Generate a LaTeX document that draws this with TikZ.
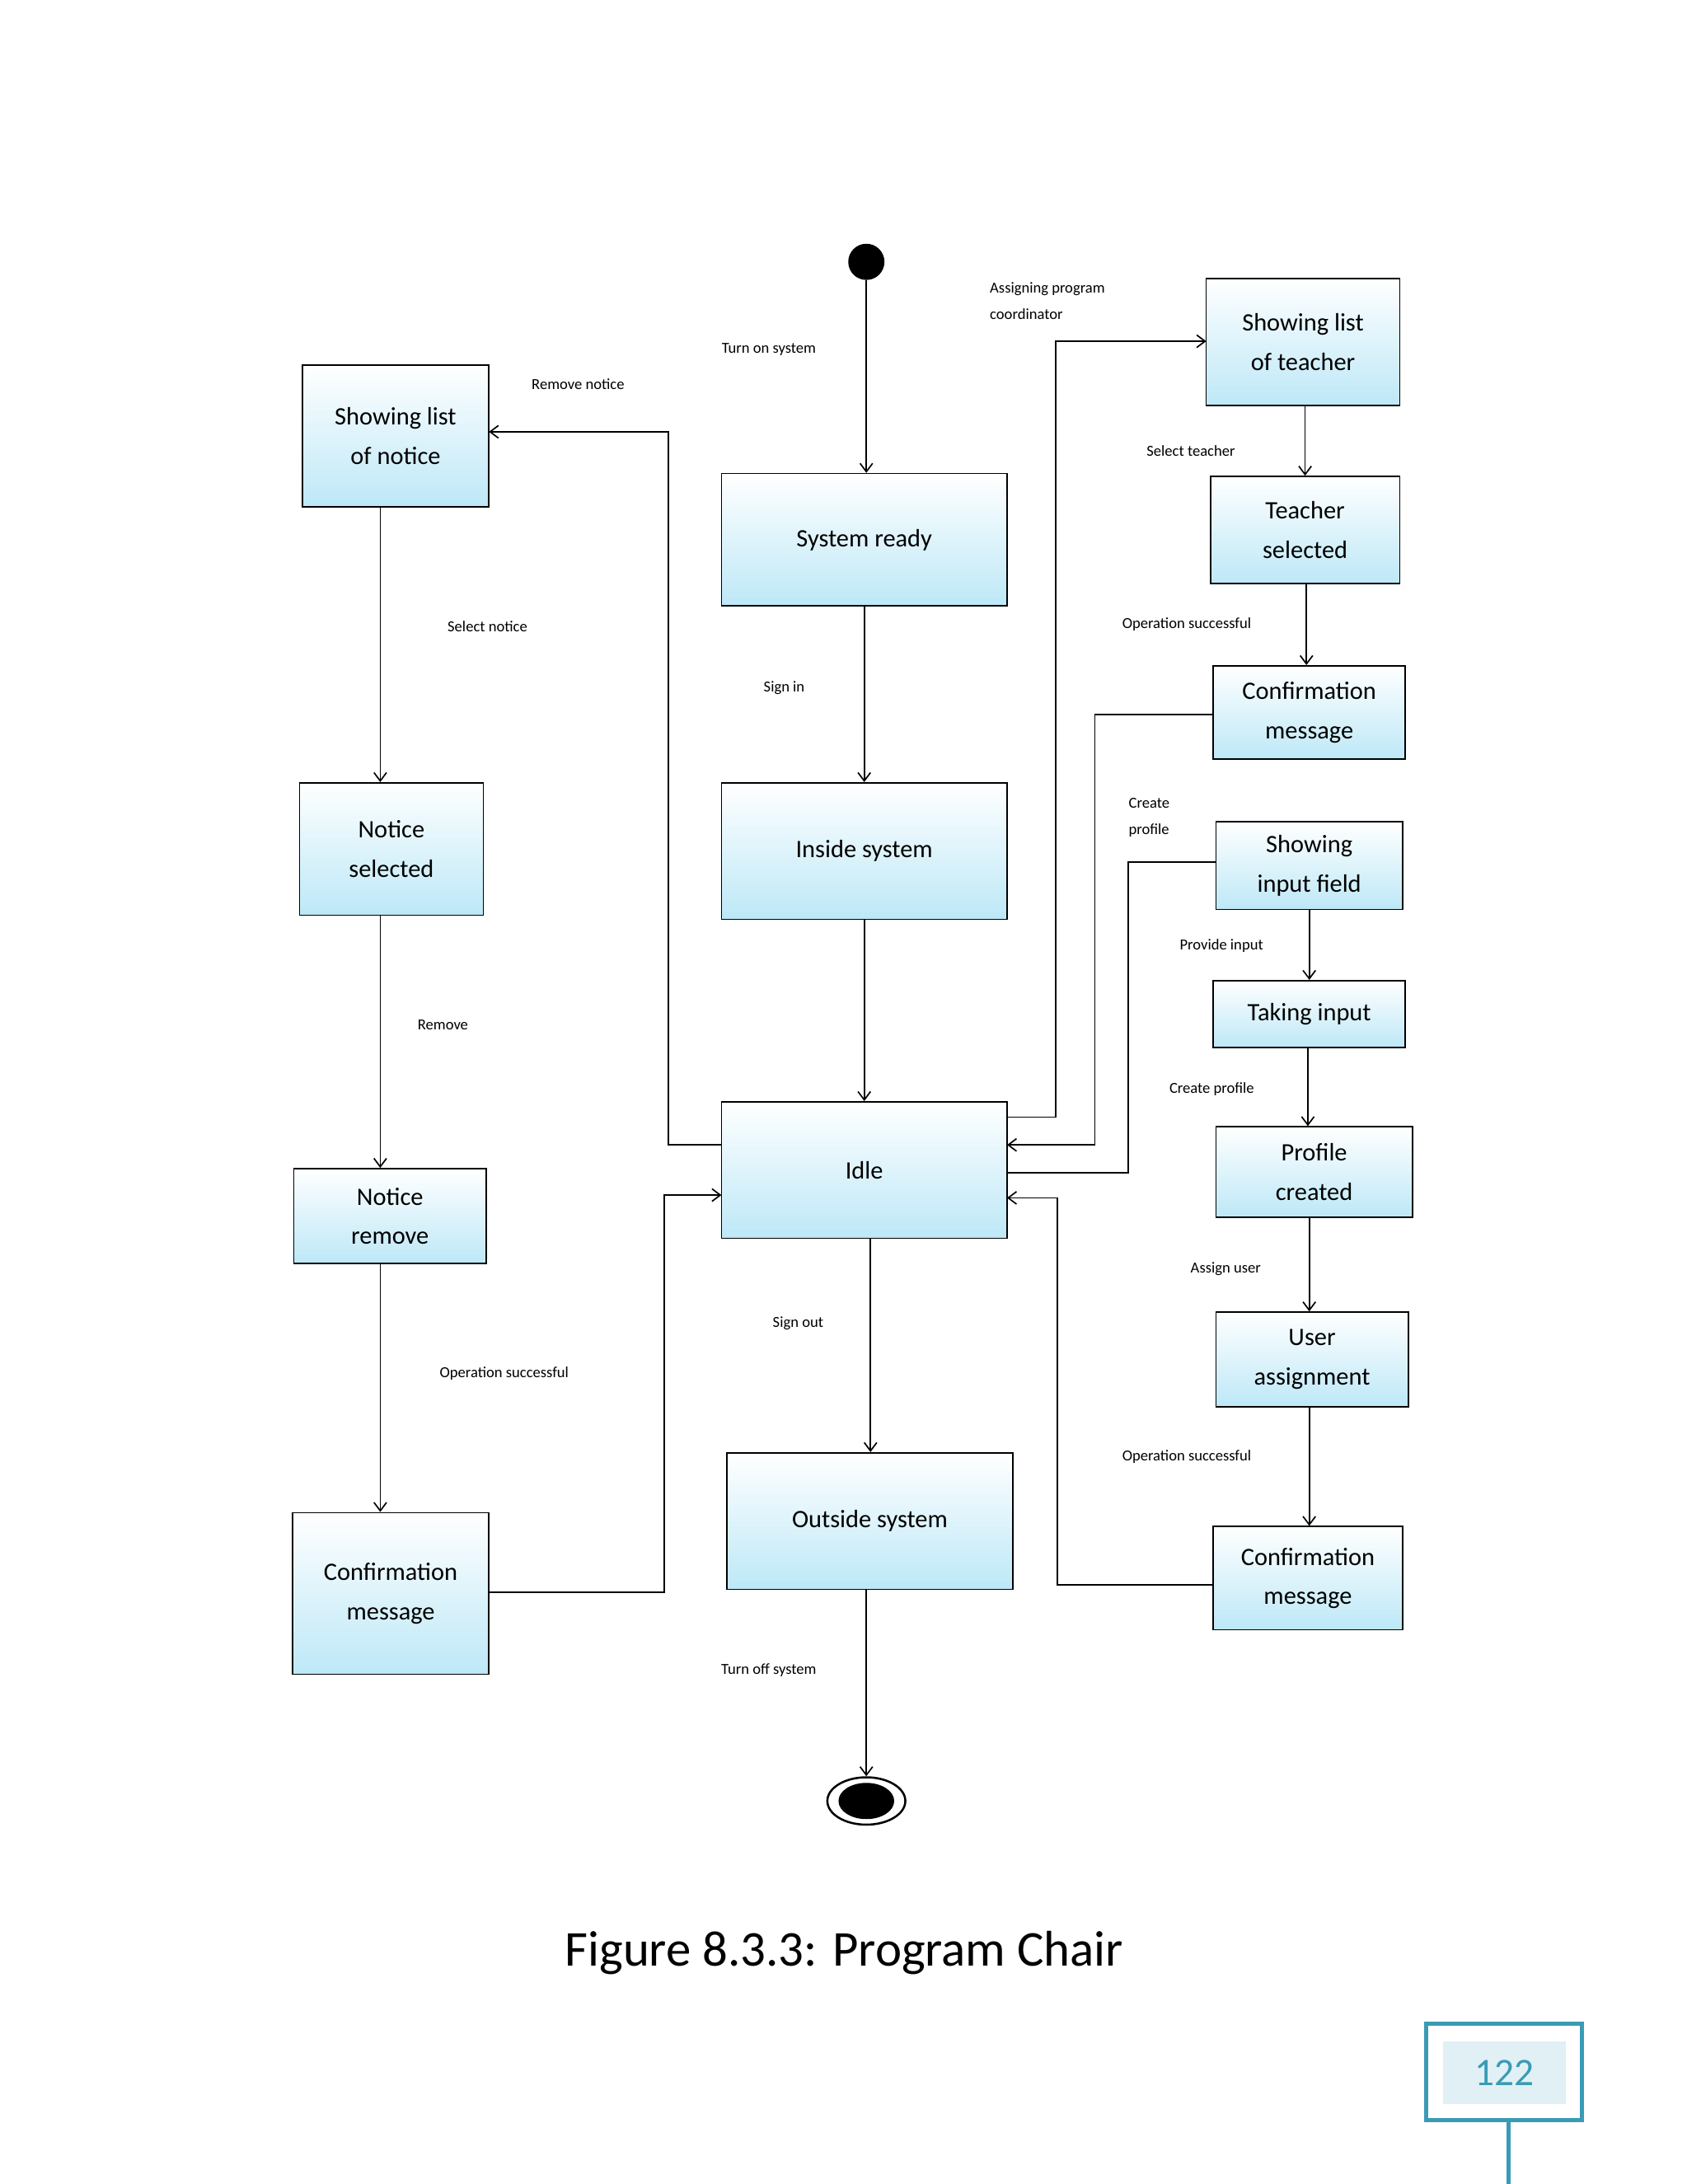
\documentclass[tikz,border=0pt]{standalone}
\usepackage{fontspec}
\setmainfont{Carlito}
\usetikzlibrary{arrows.meta,shapes.geometric}
\definecolor{boxc}{HTML}{BDE8F7}
\definecolor{teal1}{HTML}{3A9BB5}
\begin{document}
\begin{tikzpicture}[x=1pt,y=-1pt,
 st/.style={draw=black,line width=1pt,top color=white,bottom color=boxc,align=center,font=\fontsize{18}{28}\selectfont,inner sep=0pt},
 lb/.style={font=\fontsize{11}{19}\selectfont,align=left},
 ar/.style={draw,line width=1pt,-{Straight Barb[length=6pt,width=9pt]}},
 ln/.style={draw,line width=1pt}]
\useasboundingbox[fill=white] (0,0) rectangle (1211,1568);
\newcommand\bx[6]{\node[st,minimum width=#4-#2 pt,minimum height=#5-#3 pt] (#1) at ({(#2+#4)/2},{(#3+#5)/2}) {#6};}
\bx{sr}{518}{340}{723}{435}{System ready}
\bx{ins}{518}{562}{723}{660}{Inside system}
\bx{idle}{518}{791}{723}{889}{Idle}
\bx{out}{522}{1043}{727}{1141}{Outside system}
\bx{sln}{217}{262}{351}{364}{Showing list\\of notice}
\bx{ns}{215}{562}{347}{657}{Notice\\selected}
\bx{nr}{211}{839}{349}{907}{Notice\\remove}
\bx{cl}{210}{1086}{351}{1202}{Confirmation\\message}
\bx{slt}{866}{200}{1005}{291}{Showing list\\of teacher}
\bx{ts}{869}{342}{1005}{419}{Teacher\\selected}
\bx{c1}{871}{478}{1009}{545}{Confirmation\\message}
\bx{sif}{873}{590}{1007}{653}{Showing\\input field}
\bx{ti}{871}{704}{1009}{752}{Taking input}
\bx{pc}{873}{809}{1014}{874}{Profile\\created}
\bx{ua}{873}{942}{1011}{1010}{User\\assignment}
\bx{c2}{871}{1096}{1007}{1170}{Confirmation\\message}
\node[circle,fill=black,minimum size=26pt,inner sep=0] (s) at (622,188) {};
\node[ellipse,draw=black,line width=1.5pt,fill=white,minimum width=56pt,minimum height=34pt,inner sep=0] (e) at (622,1293) {};
\fill (622,1293) ellipse (20pt and 13pt);
% main column
\draw[ar] (s) -- (sr.north -| s);
\draw[ar] (sr) -- (ins);
\draw[ar] (ins) -- (idle);
\draw[ar] (idle.south -| 625,0) -- (out.north -| 625,0);
\draw[ar] (out.south -| 622,0) -- (e.north);
\node[lb] at (552,251) {Turn on system};
\node[lb] at (563,494) {Sign in};
\node[lb] at (573,950) {Sign out};
\node[lb] at (552,1199) {Turn off system};
% left column
\coordinate (a1) at (518,822); \coordinate (a2) at (351,310);
\draw[ar] (a1) -- (480,822) -- (480,310) -- (a2);
\node[lb] at (415,276) {Remove notice};
\draw[ar] (sln.south -| 273,0) -- (ns.north -| 273,0);
\node[lb] at (350,450) {Select notice};
\draw[ar] (ns.south -| 273,0) -- (nr.north -| 273,0);
\node[lb] at (318,736) {Remove};
\draw[ar] (nr.south -| 273,0) -- (cl.north -| 273,0);
\node[lb] at (362,986) {Operation successful};
\coordinate (b1) at (351,1143); \coordinate (b2) at (518,858);
\draw[ar] (b1) -- (477,1143) -- (477,858) -- (b2);
% right column
\coordinate (r1) at (723,802); \coordinate (r2) at (866,245);
\draw[ar] (r1) -- (758,802) -- (758,245) -- (r2);
\node[lb] at (752,216) {Assigning program\\coordinator};
\draw[ar] (slt.south -| 937,0) -- (ts.north -| 937,0);
\node[lb] at (855,324) {Select teacher};
\draw[ar] (ts.south -| 938,0) -- (c1.north -| 938,0);
\node[lb] at (852,448) {Operation successful};
\coordinate (q1) at (871,513); \coordinate (q2) at (723,822);
\draw[ar] (q1) -- (786,513) -- (786,822) -- (q2);
\coordinate (p1) at (873,619); \coordinate (p2) at (723,842);
\draw[ln] (p1) -- (810,619) -- (810,842) -- (p2);
\node[lb] at (825,587) {Create\\profile};
\draw[ar] (sif.south -| 940,0) -- (ti.north -| 940,0);
\node[lb] at (877,679) {Provide input};
\draw[ar] (ti.south -| 939,0) -- (pc.north -| 939,0);
\node[lb] at (870,782) {Create profile};
\draw[ar] (pc.south -| 940,0) -- (ua.north -| 940,0);
\node[lb] at (880,911) {Assign user};
\draw[ar] (ua.south -| 940,0) -- (c2.north -| 940,0);
\node[lb] at (852,1046) {Operation successful};
\coordinate (u1) at (871,1138); \coordinate (u2) at (723,860);
\draw[ar] (u1) -- (759,1138) -- (759,860) -- (u2);
% caption
\node[font=\fontsize{36}{40}\selectfont] (cap) at (606,1402) {Figure 8.3.3: Program Chair};
\draw[teal1,line width=3pt] (1024,1453) rectangle (1136,1522);
\node[fill=teal1!15,minimum width=88pt,minimum height=45pt,text=teal1,font=\fontsize{28}{30}\selectfont] (pg) at (1080,1488) {122};
\draw[teal1,line width=3pt] (1083,1522) -- (1083,1568);
\end{tikzpicture}
\end{document}
